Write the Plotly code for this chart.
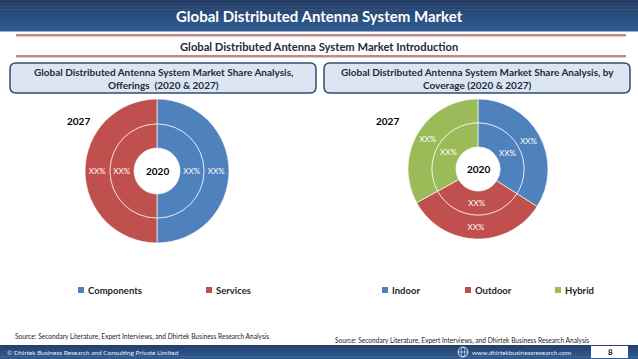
import plotly.graph_objects as go

W, H = 638, 359

# ---- data ----
offer_labels = ["Components", "Services"]
offer_2027 = [50, 50]
offer_2020 = [50, 50]
offer_text = ["XX%", "XX%"]
offer_colors = ["#4f81bd", "#c0504d"]

cov_labels = ["Indoor", "Outdoor", "Hybrid"]
cov_2027 = [34, 33, 33]
cov_2020 = [34, 33, 33]
cov_text = ["XX%", "XX%", "XX%"]
cov_colors = ["#4f81bd", "#c0504d", "#9bbb59"]

FONT = "Lato"


def px(x):
    return x / W


def py(y):
    return 1 - y / H


def dom(cx, cy, r):
    return dict(x=[(cx - r) / W, (cx + r) / W], y=[(H - cy - r) / H, (H - cy + r) / H])


def ring(values, labels, text, colors, cx, cy, r, hole):
    return go.Pie(
        values=values, labels=labels, text=text, textinfo="text",
        textposition="inside", insidetextorientation="horizontal",
        hole=hole, sort=False, direction="clockwise", rotation=0,
        marker=dict(colors=colors, line=dict(color="rgba(255,255,255,0.8)", width=0.8)),
        textfont=dict(color="white", size=8, family=FONT),
        showlegend=False, hoverinfo="label+value", domain=dom(cx, cy, r),
    )


fig = go.Figure()
# Offerings donut
fig.add_trace(ring(offer_2027, offer_labels, offer_text, offer_colors, 157, 171, 72, 47 / 72))
fig.add_trace(ring(offer_2020, offer_labels, offer_text, offer_colors, 157, 171, 47, 23 / 47))
# Coverage donut
fig.add_trace(ring(cov_2027, cov_labels, cov_text, cov_colors, 478, 169, 70, 46 / 70))
fig.add_trace(ring(cov_2020, cov_labels, cov_text, cov_colors, 478, 169, 46, 22 / 46))

shapes = []
annotations = []


def rect(x0, y0, x1, y1, fill, line=None, lw=0, layer="below"):
    shapes.append(dict(type="rect", xref="paper", yref="paper",
                       x0=px(x0), x1=px(x1), y0=py(y1), y1=py(y0),
                       fillcolor=fill, line=dict(color=line or fill, width=lw), layer=layer))


def text(x, y, s, size=9, color="#000000", bold=False, xanchor="center"):
    annotations.append(dict(x=px(x), y=py(y), xref="paper", yref="paper", text=(f"<b>{s}</b>" if bold else s),
                            showarrow=False, xanchor=xanchor, yanchor="middle",
                            font=dict(family=FONT, size=size, color=color)))


def grad_bar(y0, y1, c0, c1, n=10):
    def hx(c):
        return [int(c[i:i + 2], 16) for i in (1, 3, 5)]
    a, b = hx(c0), hx(c1)
    step = (y1 - y0) / n
    for i in range(n):
        t = i / (n - 1)
        col = "#%02x%02x%02x" % tuple(round(a[k] + (b[k] - a[k]) * t) for k in range(3))
        rect(0, y0 + i * step, W, y0 + (i + 1) * step + 0.5, col)


def rounded(x0, y0, x1, y1, r, fill, line, lw):
    X0, X1 = px(x0), px(x1)
    Y0, Y1 = py(y0), py(y1)
    rx, ry = r / W, r / H
    path = (f"M{X0 + rx},{Y0} L{X1 - rx},{Y0} Q{X1},{Y0} {X1},{Y0 - ry} "
            f"L{X1},{Y1 + ry} Q{X1},{Y1} {X1 - rx},{Y1} L{X0 + rx},{Y1} "
            f"Q{X0},{Y1} {X0},{Y1 + ry} L{X0},{Y0 - ry} Q{X0},{Y0} {X0 + rx},{Y0} Z")
    shapes.append(dict(type="path", xref="paper", yref="paper", path=path,
                       fillcolor=fill, line=dict(color=line, width=lw), layer="below"))


# Title bar
grad_bar(0, 31, "#253f68", "#305b90")
text(319, 15.5, "Global Distributed Antenna System Market", size=15, color="white", bold=True)

# red separator lines
for yy in (35, 56):
    rect(16, yy + 1, 626, yy + 2, "#d8cccc")
    rect(16, yy - 1, 626, yy + 1, "#c48886")
text(319, 46, "Global Distributed Antenna System Market Introduction", size=11.2, color="#1f2a3a", bold=True)

# header boxes
rounded(10, 63, 316, 93, 6, "#dce6f2", "#2c4d75", 1.5)
rounded(324, 63, 630, 93, 6, "#dce6f2", "#2c4d75", 1.5)
text(163, 72, "Global Distributed Antenna System Market Share Analysis,", size=10, color="#1f2a3a", bold=True)
text(163, 85, "Offerings  (2020 &amp; 2027)", size=10, color="#1f2a3a", bold=True)
text(477, 72, "Global Distributed Antenna System Market Share Analysis, by", size=10, color="#1f2a3a", bold=True)
text(477, 85, "Coverage (2020 &amp; 2027)", size=10, color="#1f2a3a", bold=True)

# donut labels
text(78, 121, "2027", size=10, bold=True)
text(157, 171, "2020", size=10, bold=True)
text(388, 121, "2027", size=10, bold=True)
text(478, 169, "2020", size=10, bold=True)


# legends (manual, small square markers)
def legend_item(x, y, label, color):
    rect(x, y - 3, x + 6, y + 3, color)
    text(x + 8, y, label, size=9.5, color="#1f1f1f", bold=True, xanchor="left")


for lx, lab, col in zip([78, 206], offer_labels, offer_colors):
    legend_item(lx, 290, lab, col)
for lx, lab, col in zip([382, 465, 555], cov_labels, cov_colors):
    legend_item(lx, 290, lab, col)

# sources
src = "Source: Secondary Literature, Expert Interviews, and Dhirtek Business Research Analysis"
text(13, 336, src, size=6.6, color="#222222", xanchor="left")
text(333, 340, src, size=6.6, color="#222222", xanchor="left")

# footer
grad_bar(345, 359, "#24426f", "#2f5a8e", n=5)
text(5, 352, "© Dhirtek Business Research and Consulting Private Limited", size=6.5, color="#e8eef6", xanchor="left")
# globe icon
gx, gy, gr = 463, 352, 5
shapes.append(dict(type="circle", xref="paper", yref="paper", x0=px(gx - gr), x1=px(gx + gr),
                   y0=py(gy + gr), y1=py(gy - gr), line=dict(color="white", width=0.8)))
shapes.append(dict(type="circle", xref="paper", yref="paper", x0=px(gx - 2), x1=px(gx + 2),
                   y0=py(gy + gr), y1=py(gy - gr), line=dict(color="white", width=0.6)))
shapes.append(dict(type="line", xref="paper", yref="paper", x0=px(gx - gr), x1=px(gx + gr),
                   y0=py(gy), y1=py(gy), line=dict(color="white", width=0.6)))
text(470, 352, "www.dhirtekbusinessresearch.com", size=6.5, color="#e8eef6", xanchor="left")
rect(591, 346, 628, 358, "#ffffff", layer="above")
text(610, 352, "8", size=8, color="#111111", bold=True)

fig.update_layout(
    width=W, height=H, margin=dict(l=0, r=0, t=0, b=0),
    paper_bgcolor="white", plot_bgcolor="white",
    shapes=shapes, annotations=annotations, showlegend=False,
    font=dict(family=FONT),
)
fig.write_html("out.html", config={"displayModeBar": False},
               post_script="document.body.style.margin='0';document.body.style.overflow='hidden';")
